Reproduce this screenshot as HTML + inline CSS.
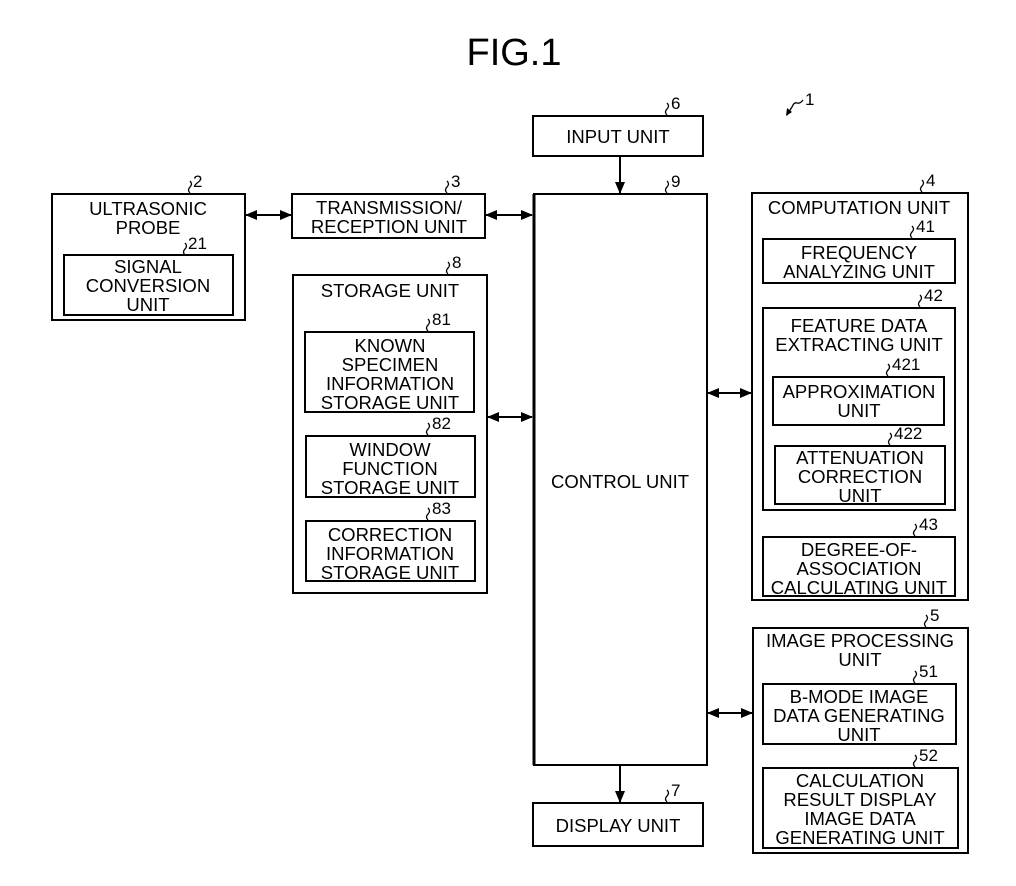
<!DOCTYPE html>
<html><head><meta charset="utf-8"><style>
html,body{margin:0;padding:0;background:#fff;}
svg{display:block}
text{font-family:"Liberation Sans",Arial,sans-serif;font-size:18.5px;fill:#000;text-anchor:middle}
.n{text-anchor:start;font-size:17px}
rect{fill:none;stroke:#000;stroke-width:2}
line{stroke:#000;stroke-width:2}
.sq{fill:none;stroke:#000;stroke-width:1.3}
</style></head><body>
<svg width="1016" height="886" viewBox="0 0 1016 886">
<defs>
<marker id="a" markerWidth="12" markerHeight="10" refX="11" refY="5" orient="auto-start-reverse" markerUnits="userSpaceOnUse"><path d="M0,0 L12,5 L0,10 z" fill="#000"/></marker>
</defs>
<text x="514" y="65" style="font-size:38px">FIG.1</text>

<text class="n" x="805" y="105">1</text>
<path class="sq" d="M803,100 q-3,4 -6,3 q-3,-1 -5,4 l-5,8"/>
<path d="M786,116 l1,-8 l5,4 z" fill="#000"/>

<g>
<path class="sq" d="M190,193 q-3,-3 0,-6 q3,-3 0,-6"/><text class="n" x="193" y="187">2</text>
<path class="sq" d="M185,255 q-3,-3 0,-6 q3,-3 0,-6"/><text class="n" x="188" y="249">21</text>
<path class="sq" d="M447,193 q-3,-3 0,-6 q3,-3 0,-6"/><text class="n" x="451" y="187">3</text>
<path class="sq" d="M448,274 q-3,-3 0,-6 q3,-3 0,-6"/><text class="n" x="452" y="268">8</text>
<path class="sq" d="M428,331 q-3,-3 0,-6 q3,-3 0,-6"/><text class="n" x="432" y="325">81</text>
<path class="sq" d="M428,435 q-3,-3 0,-6 q3,-3 0,-6"/><text class="n" x="432" y="429">82</text>
<path class="sq" d="M428,520 q-3,-3 0,-6 q3,-3 0,-6"/><text class="n" x="432" y="514">83</text>
<path class="sq" d="M667,115 q-3,-3 0,-6 q3,-3 0,-6"/><text class="n" x="671" y="109">6</text>
<path class="sq" d="M667,193 q-3,-3 0,-6 q3,-3 0,-6"/><text class="n" x="671" y="187">9</text>
<path class="sq" d="M667,802 q-3,-3 0,-6 q3,-3 0,-6"/><text class="n" x="671" y="796">7</text>
<path class="sq" d="M922,192 q-3,-3 0,-6 q3,-3 0,-6"/><text class="n" x="926" y="186">4</text>
<path class="sq" d="M912,238 q-3,-3 0,-6 q3,-3 0,-6"/><text class="n" x="916" y="232">41</text>
<path class="sq" d="M920,307 q-3,-3 0,-6 q3,-3 0,-6"/><text class="n" x="924" y="301">42</text>
<path class="sq" d="M888,376 q-3,-3 0,-6 q3,-3 0,-6"/><text class="n" x="892" y="370">421</text>
<path class="sq" d="M890,445 q-3,-3 0,-6 q3,-3 0,-6"/><text class="n" x="894" y="439">422</text>
<path class="sq" d="M915,536 q-3,-3 0,-6 q3,-3 0,-6"/><text class="n" x="919" y="530">43</text>
<path class="sq" d="M926,627 q-3,-3 0,-6 q3,-3 0,-6"/><text class="n" x="930" y="621">5</text>
<path class="sq" d="M915,683 q-3,-3 0,-6 q3,-3 0,-6"/><text class="n" x="919" y="677">51</text>
<path class="sq" d="M915,767 q-3,-3 0,-6 q3,-3 0,-6"/><text class="n" x="919" y="761">52</text>
</g>

<rect x="52" y="194" width="193" height="126"/>
<text x="148" y="215">ULTRASONIC</text><text x="148" y="234">PROBE</text>
<rect x="64" y="255" width="169" height="60"/>
<text x="148" y="273">SIGNAL</text><text x="148" y="292">CONVERSION</text><text x="148" y="311">UNIT</text>

<rect x="292" y="194" width="193" height="44"/>
<text x="389" y="214">TRANSMISSION/</text><text x="389" y="233">RECEPTION UNIT</text>

<rect x="293" y="275" width="194" height="318"/>
<text x="390" y="297">STORAGE UNIT</text>
<rect x="305" y="332" width="169" height="80"/>
<text x="390" y="352">KNOWN</text><text x="390" y="371">SPECIMEN</text><text x="390" y="390">INFORMATION</text><text x="390" y="409">STORAGE UNIT</text>
<rect x="306" y="436" width="169" height="61"/>
<text x="390" y="456">WINDOW</text><text x="390" y="475">FUNCTION</text><text x="390" y="494">STORAGE UNIT</text>
<rect x="306" y="521" width="169" height="60"/>
<text x="390" y="541">CORRECTION</text><text x="390" y="560">INFORMATION</text><text x="390" y="579">STORAGE UNIT</text>

<rect x="533" y="116" width="170" height="40"/>
<text x="618" y="143">INPUT UNIT</text>
<rect x="534" y="194" width="173" height="571"/>
<line x1="534" y1="194" x2="534" y2="765" style="stroke-width:3"/>
<text x="620" y="488">CONTROL UNIT</text>
<rect x="533" y="803" width="170" height="43"/>
<text x="618" y="832">DISPLAY UNIT</text>

<rect x="752" y="193" width="216" height="407"/>
<text x="859" y="214">COMPUTATION UNIT</text>
<rect x="763" y="239" width="192" height="44"/>
<text x="859" y="259">FREQUENCY</text><text x="859" y="278">ANALYZING UNIT</text>
<rect x="763" y="308" width="192" height="202"/>
<text x="859" y="332">FEATURE DATA</text><text x="859" y="351">EXTRACTING UNIT</text>
<rect x="773" y="377" width="171" height="48"/>
<text x="859" y="398">APPROXIMATION</text><text x="859" y="417">UNIT</text>
<rect x="775" y="446" width="170" height="58"/>
<text x="860" y="464">ATTENUATION</text><text x="860" y="483">CORRECTION</text><text x="860" y="502">UNIT</text>
<rect x="763" y="537" width="192" height="59"/>
<text x="859" y="556">DEGREE-OF-</text><text x="859" y="575">ASSOCIATION</text><text x="859" y="594">CALCULATING UNIT</text>

<rect x="753" y="628" width="215" height="225"/>
<text x="860" y="647">IMAGE PROCESSING</text><text x="860" y="666">UNIT</text>
<rect x="763" y="684" width="193" height="60"/>
<text x="859" y="703">B-MODE IMAGE</text><text x="859" y="722">DATA GENERATING</text><text x="859" y="741">UNIT</text>
<rect x="763" y="768" width="195" height="80"/>
<text x="860" y="787">CALCULATION</text><text x="860" y="806">RESULT DISPLAY</text><text x="860" y="825">IMAGE DATA</text><text x="860" y="844">GENERATING UNIT</text>

<line x1="246" y1="215" x2="291" y2="215" marker-start="url(#a)" marker-end="url(#a)"/>
<line x1="486" y1="215" x2="532" y2="215" marker-start="url(#a)" marker-end="url(#a)"/>
<line x1="488" y1="417" x2="532" y2="417" marker-start="url(#a)" marker-end="url(#a)"/>
<line x1="708" y1="393" x2="751" y2="393" marker-start="url(#a)" marker-end="url(#a)"/>
<line x1="708" y1="713" x2="752" y2="713" marker-start="url(#a)" marker-end="url(#a)"/>
<line x1="620" y1="157" x2="620" y2="193" marker-end="url(#a)"/>
<line x1="620" y1="766" x2="620" y2="802" marker-end="url(#a)"/>
</svg>
</body></html>
